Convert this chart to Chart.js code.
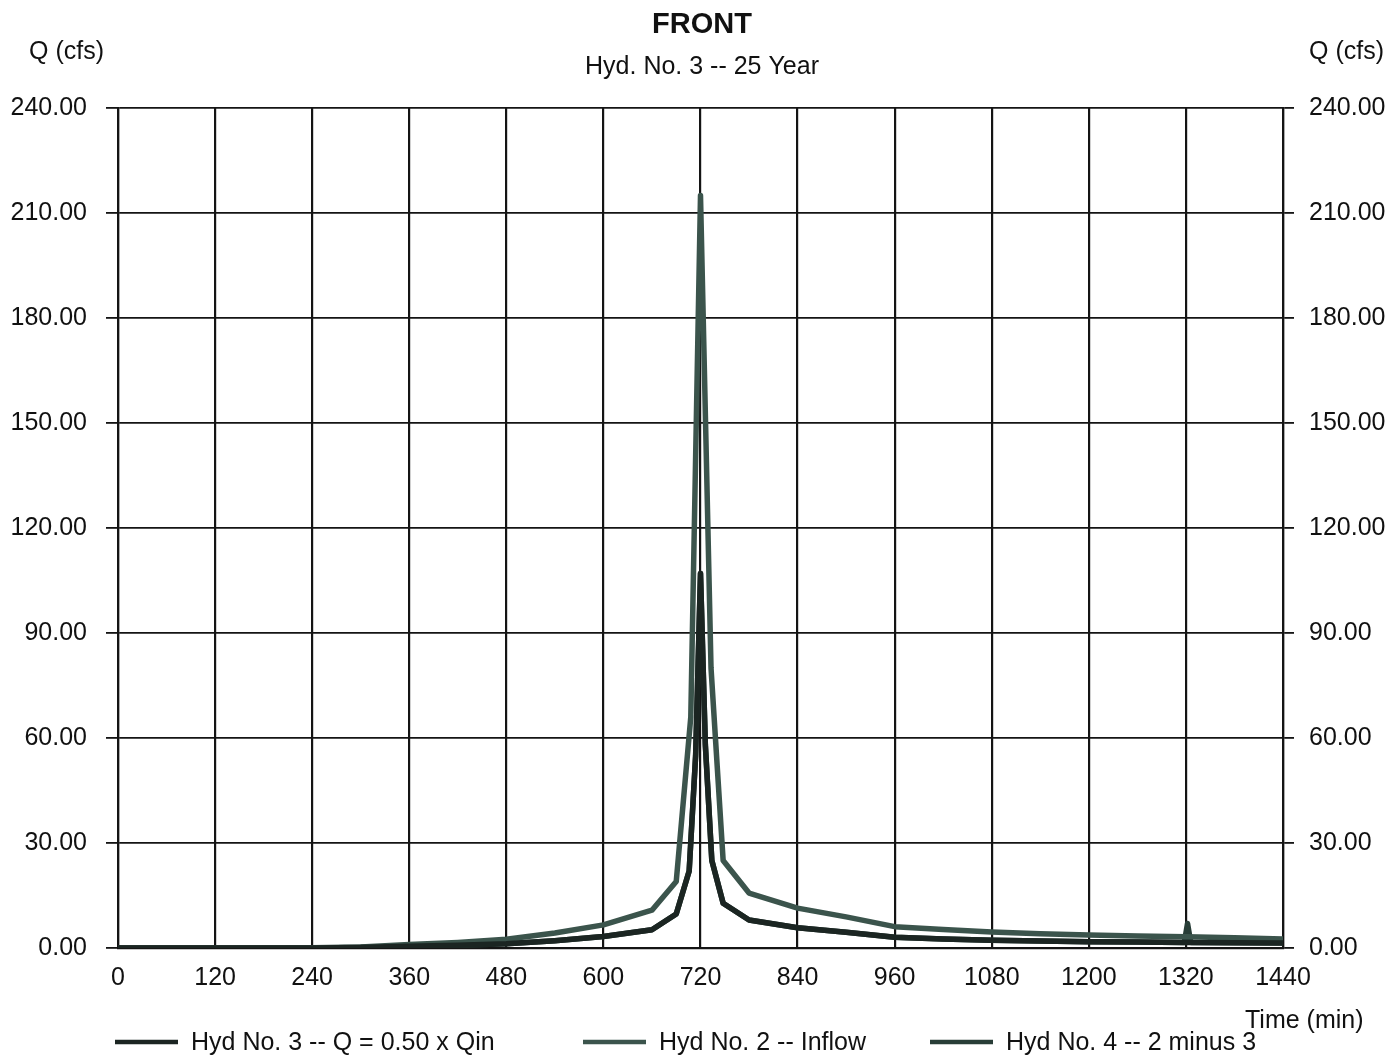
<!DOCTYPE html>
<html>
<head>
<meta charset="utf-8">
<title>FRONT - Hyd. No. 3</title>
<script src="https://cdn.jsdelivr.net/npm/chart.js@4.4.1/dist/chart.umd.min.js"></script>
<style>
  html, body { margin: 0; padding: 0; background: #fff; }
  #wrap { width: 1390px; height: 1055px; position: relative; }
</style>
</head>
<body>
<div id="wrap"><canvas id="hydrograph"></canvas></div>
<script>
// Inflow hydrograph (Hyd No. 2), time in minutes, Q in cfs
const inflowTimes = [0, 120, 240, 300, 360, 420, 480, 540, 600, 660, 690, 708, 720, 733, 748, 780, 840, 900, 960, 1020, 1080, 1140, 1200, 1260, 1320, 1380, 1440];
const inflowQ     = [0, 0, 0.05, 0.3, 1.0, 1.6, 2.5, 4.3, 6.6, 10.8, 19.0, 66.0, 215.0, 80.0, 25.0, 15.7, 11.4, 8.9, 6.1, 5.3, 4.6, 4.1, 3.7, 3.4, 3.2, 2.9, 2.6];

// Split flow (Hyd No. 3) and remainder (Hyd No. 4)
const splitTimes = [0, 120, 240, 300, 360, 420, 480, 540, 600, 660, 690, 706, 714, 720, 726, 734, 748, 780, 840, 900, 960, 1020, 1080, 1140, 1200, 1260, 1318, 1322, 1326, 1380, 1440];
const hyd3Q      = [0, 0, 0.02, 0.15, 0.5, 0.8, 1.2, 2.1, 3.3, 5.2, 9.7, 22.0, 55.0, 107.0, 58.0, 25.0, 12.8, 8.0, 5.8, 4.5, 3.1, 2.6, 2.2, 2.0, 1.8, 1.7, 1.6, 1.6, 1.6, 1.5, 1.4];
const hyd4Q      = [0, 0, 0.02, 0.15, 0.5, 0.8, 1.2, 2.1, 3.3, 5.2, 9.7, 22.0, 55.0, 107.0, 58.0, 25.0, 12.8, 8.0, 5.8, 4.5, 3.1, 2.6, 2.2, 2.0, 1.8, 1.7, 1.6, 7.0, 1.6, 1.5, 1.4];

const timeTicks = [0, 120, 240, 360, 480, 600, 720, 840, 960, 1080, 1200, 1320, 1440];
const flowTicks = [0, 30, 60, 90, 120, 150, 180, 210, 240];

const seriesLabels = ['Hyd No. 3 -- Q = 0.50 x Qin', 'Hyd No. 2 -- Inflow', 'Hyd No. 4 -- 2 minus 3'];
const seriesColors = ['#1b2522', '#3b544c', '#283d37'];

const FONT = '"Liberation Sans", Arial, sans-serif';
const GRID = '#141414';

function toPoints(xs, ys) {
    return xs.map((t, i) => ({ x: t, y: ys[i] }));
}

// Titles, axis captions and the legend row
const textPlugin = {
    id: 'hydText',
    afterDraw(chart) {
        const ctx = chart.ctx;
        ctx.save();
        ctx.fillStyle = '#111';
        ctx.textBaseline = 'alphabetic';

        ctx.font = 'bold 29px ' + FONT;
        ctx.textAlign = 'center';
        ctx.fillText('FRONT', 702, 33);

        ctx.font = '25px ' + FONT;
        ctx.fillText('Hyd. No. 3 -- 25 Year', 702, 74);

        ctx.textAlign = 'left';
        ctx.fillText('Q (cfs)', 29, 59);
        ctx.fillText('Q (cfs)', 1309, 59);
        ctx.fillText('Time (min)', 1245, 1028);

        // legend
        const legendX = [115, 583, 930];
        chart.data.datasets.forEach((ds, i) => {
            const x = legendX[i];
            ctx.strokeStyle = ds.borderColor;
            ctx.lineWidth = 4.5;
            ctx.beginPath();
            ctx.moveTo(x, 1042);
            ctx.lineTo(x + 63, 1042);
            ctx.stroke();
            ctx.fillStyle = '#111';
            ctx.fillText(ds.label, x + 76, 1050);
        });
        ctx.restore();
    }
};

const datasets = [
    { label: seriesLabels[0], data: toPoints(splitTimes, hyd3Q) },
    { label: seriesLabels[1], data: toPoints(inflowTimes, inflowQ) },
    { label: seriesLabels[2], data: toPoints(splitTimes, hyd4Q) }
].map((ds, i) => Object.assign(ds, {
    borderColor: seriesColors[i],
    backgroundColor: seriesColors[i],
    borderWidth: 5.5,
    pointRadius: 0,
    tension: 0,
    borderJoinStyle: 'round',
    fill: false
}));

new Chart(document.getElementById('hydrograph'), {
    type: 'line',
    data: { datasets: datasets },
    plugins: [textPlugin],
    options: {
        responsive: true,
        maintainAspectRatio: false,
        animation: false,
        layout: { padding: { top: 108, left: 0, right: 0, bottom: 0 } },
        plugins: {
            legend: { display: false },
            tooltip: { enabled: false }
        },
        scales: {
            x: {
                type: 'linear',
                min: 0,
                max: 1440,
                afterFit: s => { s.height = 107; },
                afterBuildTicks: s => { s.ticks = timeTicks.map(v => ({ value: v })); },
                ticks: {
                    color: '#111',
                    font: { family: FONT, size: 25 },
                    padding: 15,
                    maxRotation: 0,
                    autoSkip: false,
                    callback: v => String(v)
                },
                grid: { color: GRID, lineWidth: 2.2, drawTicks: false },
                border: { color: GRID, width: 2.2 }
            },
            y: {
                position: 'left',
                min: 0,
                max: 240,
                afterFit: s => { s.width = 118; },
                afterBuildTicks: s => { s.ticks = flowTicks.map(v => ({ value: v })); },
                ticks: {
                    color: '#111',
                    font: { family: FONT, size: 25 },
                    padding: 19,
                    callback: v => v.toFixed(2)
                },
                grid: { color: GRID, lineWidth: 1.8, tickLength: 12 },
                border: { color: GRID, width: 2.2 }
            },
            y2: {
                position: 'right',
                min: 0,
                max: 240,
                afterFit: s => { s.width = 107; },
                afterBuildTicks: s => { s.ticks = flowTicks.map(v => ({ value: v })); },
                ticks: {
                    color: '#111',
                    font: { family: FONT, size: 25 },
                    padding: 15,
                    callback: v => v.toFixed(2)
                },
                grid: { color: GRID, lineWidth: 1.8, tickLength: 11, drawOnChartArea: false },
                border: { color: GRID, width: 2.2 }
            }
        }
    }
});
</script>
</body>
</html>
